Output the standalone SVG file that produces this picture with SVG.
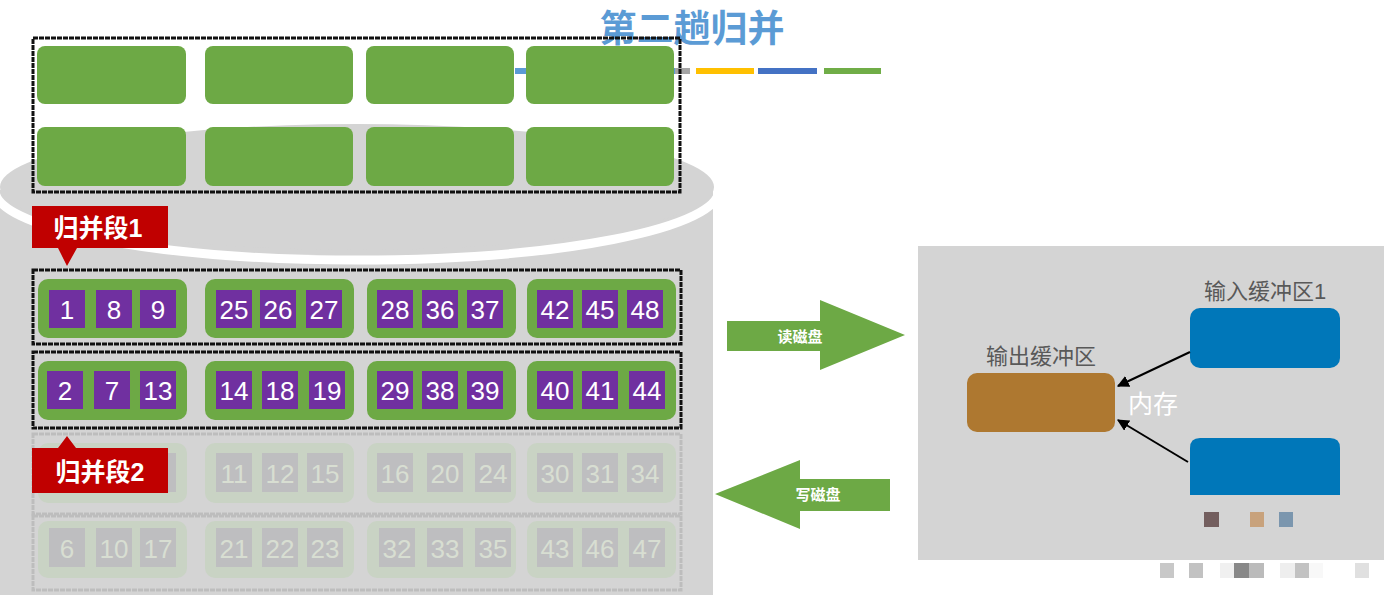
<svg xmlns="http://www.w3.org/2000/svg" width="1384" height="595" viewBox="0 0 1384 595">
<defs>
<style>
.tile{fill:#6DA945}
.grp{fill:#6DA945}
.sq{fill:#7030A0}
.num{fill:#fff;font-family:"Liberation Sans",Arial,sans-serif;font-size:26px;text-anchor:middle}
.f .grp{fill:#C9D3C4}
.f .sq{fill:#BEBEC0}
.f .num{fill:#D8DED2}
.box{fill:none;stroke:#111;stroke-width:3;stroke-dasharray:5 1}
.fbox{fill:none;stroke:#BDBDBD;stroke-width:3;stroke-dasharray:5 1}
.cn{font-family:"Liberation Sans","Noto Sans CJK SC",sans-serif}
</style>
<marker id="ah" viewBox="0 0 10 10" refX="9" refY="5" markerWidth="6" markerHeight="6" orient="auto"><path d="M0,0L10,5L0,10z" fill="#000"/></marker>
</defs>
<rect width="1384" height="595" fill="#fff"/>
<g id="disk">
<rect x="0" y="190" width="713" height="405" fill="#D4D4D4"/>
<ellipse cx="357" cy="190" rx="362" ry="70" fill="none" stroke="#fff" stroke-width="9"/>
<ellipse cx="357" cy="187" rx="357" ry="63" fill="#D4D4D4"/>
</g>
<g id="title">
<text x="692" y="42" class="cn" font-size="37" font-weight="bold" fill="#5B9BD5" text-anchor="middle">第二趟归并</text>
<rect x="515" y="68" width="160" height="6" fill="#5B9BD5"/>
<rect x="675" y="68" width="15" height="6" fill="#A5A5A5"/>
<rect x="696" y="68" width="58" height="6" fill="#FFC000"/>
<rect x="758" y="68" width="59" height="6" fill="#4472C4"/>
<rect x="824" y="68" width="57" height="6" fill="#70AD47"/>
</g>
<g id="top-tiles">
<rect x="33" y="38" width="647" height="154" class="box"/>
<rect class="tile" x="37" y="46" width="149" height="58" rx="8"/>
<rect class="tile" x="205" y="46" width="148" height="58" rx="8"/>
<rect class="tile" x="366" y="46" width="148" height="58" rx="8"/>
<rect class="tile" x="526" y="46" width="148" height="58" rx="8"/>
<rect class="tile" x="37" y="127" width="149" height="59" rx="8"/>
<rect class="tile" x="205" y="127" width="148" height="59" rx="8"/>
<rect class="tile" x="366" y="127" width="148" height="59" rx="8"/>
<rect class="tile" x="526" y="127" width="148" height="59" rx="8"/>
</g>
<g id="row1">
<rect x="33" y="270" width="648" height="74" class="box"/>
<rect class="grp" x="38" y="279" width="149" height="59" rx="10"/><rect class="grp" x="205" y="279" width="149" height="59" rx="10"/><rect class="grp" x="367" y="279" width="149" height="59" rx="10"/><rect class="grp" x="527" y="279" width="149" height="59" rx="10"/>
<rect class="sq" x="49" y="290" width="36" height="38"/><rect class="sq" x="96" y="290" width="36" height="38"/><rect class="sq" x="140" y="290" width="36" height="38"/>
<rect class="sq" x="216" y="290" width="36" height="38"/><rect class="sq" x="260" y="290" width="36" height="38"/><rect class="sq" x="306" y="290" width="36" height="38"/>
<rect class="sq" x="377" y="290" width="36" height="38"/><rect class="sq" x="422" y="290" width="36" height="38"/><rect class="sq" x="467" y="290" width="36" height="38"/>
<rect class="sq" x="537" y="290" width="36" height="38"/><rect class="sq" x="582" y="290" width="36" height="38"/><rect class="sq" x="627" y="290" width="36" height="38"/>
<text class="num" y="319"><tspan x="67">1</tspan><tspan x="114">8</tspan><tspan x="158">9</tspan><tspan x="234">25</tspan><tspan x="278">26</tspan><tspan x="324">27</tspan><tspan x="395">28</tspan><tspan x="440">36</tspan><tspan x="485">37</tspan><tspan x="555">42</tspan><tspan x="600">45</tspan><tspan x="645">48</tspan></text>
</g>
<g id="row2">
<rect x="33" y="352" width="648" height="76" class="box"/>
<rect class="grp" x="38" y="361" width="149" height="59" rx="10"/><rect class="grp" x="205" y="361" width="149" height="59" rx="10"/><rect class="grp" x="367" y="361" width="149" height="59" rx="10"/><rect class="grp" x="527" y="361" width="149" height="59" rx="10"/>
<rect class="sq" x="47" y="371" width="36" height="38"/><rect class="sq" x="94" y="371" width="36" height="38"/><rect class="sq" x="140" y="371" width="36" height="38"/>
<rect class="sq" x="216" y="371" width="36" height="38"/><rect class="sq" x="262" y="371" width="36" height="38"/><rect class="sq" x="309" y="371" width="36" height="38"/>
<rect class="sq" x="377" y="371" width="36" height="38"/><rect class="sq" x="422" y="371" width="36" height="38"/><rect class="sq" x="467" y="371" width="36" height="38"/>
<rect class="sq" x="537" y="371" width="36" height="38"/><rect class="sq" x="582" y="371" width="36" height="38"/><rect class="sq" x="629" y="371" width="36" height="38"/>
<text class="num" y="400"><tspan x="65">2</tspan><tspan x="112">7</tspan><tspan x="158">13</tspan><tspan x="234">14</tspan><tspan x="280">18</tspan><tspan x="327">19</tspan><tspan x="395">29</tspan><tspan x="440">38</tspan><tspan x="485">39</tspan><tspan x="555">40</tspan><tspan x="600">41</tspan><tspan x="647">44</tspan></text>
</g>
<g id="row3" class="f">
<rect x="33" y="434" width="648" height="80" class="fbox"/>
<rect class="grp" x="38" y="443" width="149" height="60" rx="10"/><rect class="grp" x="205" y="443" width="149" height="60" rx="10"/><rect class="grp" x="367" y="443" width="149" height="60" rx="10"/><rect class="grp" x="527" y="443" width="149" height="60" rx="10"/>
<rect class="sq" x="140" y="453" width="36" height="39"/>
<rect class="sq" x="216" y="453" width="36" height="39"/><rect class="sq" x="262" y="453" width="36" height="39"/><rect class="sq" x="307" y="453" width="36" height="39"/>
<rect class="sq" x="377" y="453" width="36" height="39"/><rect class="sq" x="427" y="453" width="36" height="39"/><rect class="sq" x="475" y="453" width="36" height="39"/>
<rect class="sq" x="537" y="453" width="36" height="39"/><rect class="sq" x="582" y="453" width="36" height="39"/><rect class="sq" x="627" y="453" width="36" height="39"/>
<text class="num" y="483"><tspan x="234">11</tspan><tspan x="280">12</tspan><tspan x="325">15</tspan><tspan x="395">16</tspan><tspan x="445">20</tspan><tspan x="493">24</tspan><tspan x="555">30</tspan><tspan x="600">31</tspan><tspan x="645">34</tspan></text>
</g>
<g id="row4" class="f">
<rect x="33" y="516" width="648" height="74" class="fbox"/>
<rect class="grp" x="38" y="521" width="149" height="57" rx="10"/><rect class="grp" x="205" y="521" width="149" height="57" rx="10"/><rect class="grp" x="367" y="521" width="149" height="57" rx="10"/><rect class="grp" x="527" y="521" width="149" height="57" rx="10"/>
<rect class="sq" x="49" y="528" width="36" height="39"/><rect class="sq" x="96" y="528" width="36" height="39"/><rect class="sq" x="140" y="528" width="36" height="39"/>
<rect class="sq" x="216" y="528" width="36" height="39"/><rect class="sq" x="262" y="528" width="36" height="39"/><rect class="sq" x="307" y="528" width="36" height="39"/>
<rect class="sq" x="379" y="528" width="36" height="39"/><rect class="sq" x="427" y="528" width="36" height="39"/><rect class="sq" x="475" y="528" width="36" height="39"/>
<rect class="sq" x="537" y="528" width="36" height="39"/><rect class="sq" x="582" y="528" width="36" height="39"/><rect class="sq" x="629" y="528" width="36" height="39"/>
<text class="num" y="558"><tspan x="67">6</tspan><tspan x="114">10</tspan><tspan x="158">17</tspan><tspan x="234">21</tspan><tspan x="280">22</tspan><tspan x="325">23</tspan><tspan x="397">32</tspan><tspan x="445">33</tspan><tspan x="493">35</tspan><tspan x="555">43</tspan><tspan x="600">46</tspan><tspan x="647">47</tspan></text>
</g>
<g id="label1">
<path d="M32,206H168V248H77L67,266L58,248H32Z" fill="#C00000"/>
<text x="98" y="237" class="cn" font-size="25" font-weight="bold" fill="#fff" text-anchor="middle">归并段1</text>
</g>
<g id="label2">
<path d="M32,448H58L67,436L76,448H168V493H32Z" fill="#C00000"/>
<text x="100" y="481" class="cn" font-size="25" font-weight="bold" fill="#fff" text-anchor="middle">归并段2</text>
</g>
<g id="read-arrow">
<path d="M727,321H820V300L905,335L820,370V351H727Z" fill="#6DA945"/>
<text x="800" y="342" class="cn" font-size="15" font-weight="bold" fill="#fff" text-anchor="middle">读磁盘</text>
</g>
<g id="write-arrow">
<path d="M890,479H800V460L715,494L800,529V511H890Z" fill="#6DA945"/>
<text x="818" y="500" class="cn" font-size="15" font-weight="bold" fill="#fff" text-anchor="middle">写磁盘</text>
</g>
<g id="memory">
<rect x="918" y="246" width="466" height="314" fill="#D4D4D4"/>
<text x="1153" y="413" class="cn" font-size="25" fill="#fff" text-anchor="middle">内存</text>
<rect x="1204" y="512" width="15" height="15" fill="#735E5E"/>
<rect x="1250" y="512" width="14" height="15" fill="#C8A27C"/>
<rect x="1279" y="512" width="14" height="15" fill="#7B96AE"/>
</g>
<g id="pixels">
<rect x="1160" y="563" width="14" height="15" fill="#C8C8C8"/>
<rect x="1189" y="563" width="14" height="15" fill="#C2C2C2"/>
<rect x="1220" y="563" width="14" height="15" fill="#F0F0F0"/>
<rect x="1234" y="563" width="15" height="15" fill="#888"/>
<rect x="1249" y="563" width="15" height="15" fill="#BBB"/>
<rect x="1280" y="563" width="15" height="15" fill="#EEE"/>
<rect x="1295" y="563" width="14" height="15" fill="#C2C2C2"/>
<rect x="1309" y="563" width="14" height="15" fill="#F8F8F8"/>
<rect x="1355" y="563" width="14" height="15" fill="#E0E0E0"/>
</g>
<g id="output-buffer">
<rect x="967" y="373" width="148" height="59" rx="10" fill="#AE7830"/>
<text x="1041" y="364" class="cn" font-size="22" fill="#595959" text-anchor="middle">输出缓冲区</text>
</g>
<g id="input-buffer1">
<rect x="1190" y="308" width="150" height="60" rx="10" fill="#0077B9"/>
<text x="1265" y="299" class="cn" font-size="22" fill="#595959" text-anchor="middle">输入缓冲区1</text>
</g>
<g id="input-buffer2">
<path d="M1200,438H1330Q1340,438 1340,448V495H1190V448Q1190,438 1200,438Z" fill="#0077B9"/>
</g>
<g id="connectors" stroke="#000" stroke-width="2" marker-end="url(#ah)">
<line x1="1190" y1="352" x2="1118" y2="386"/>
<line x1="1188" y1="462" x2="1118" y2="420"/>
</g>
</svg>
